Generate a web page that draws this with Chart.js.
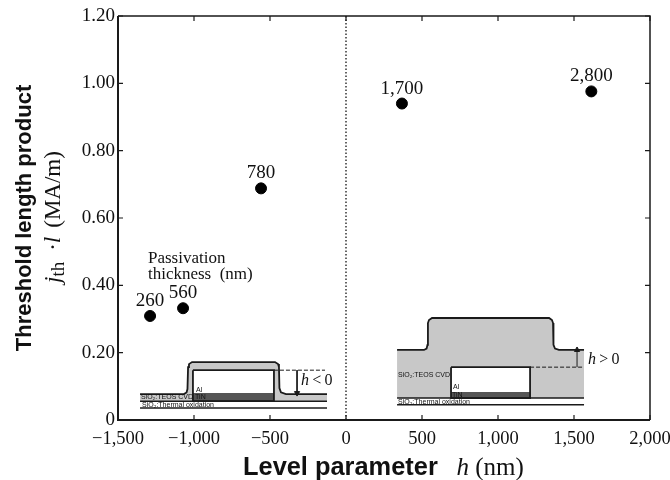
<!DOCTYPE html>
<html>
<head>
<meta charset="utf-8">
<title>Threshold length product vs level parameter</title>
<script src="https://cdn.jsdelivr.net/npm/chart.js@4"></script>
<style>
  html, body { margin: 0; padding: 0; background: #fff; }
  canvas { display: block; }
</style>
</head>
<body>
<canvas id="myChart" width="670" height="480"></canvas>
<script>
// measured points
var levelParam = [-1289, -1072, -559, 368, 1614];
var thresholdProduct = [0.309, 0.332, 0.688, 0.94, 0.976];
var thicknessLabels = ['260', '560', '780', '1,700', '2,800'];

var xTickLabels = ['\u22121,500', '\u22121,000', '\u2212500', '0', '500', '1,000', '1,500', '2,000'];
var yTickLabels = ['0', '0.20', '0.40', '0.60', '0.80', '1.00', '1.20'];

// inset drawings, in axis units
var leftSurfaceX = [-1355, -1066, -1049, -1043, -1039, -1033, -1013, -467, -447, -441, -438, -428, -395, -125];
var leftSurfaceY = [0.077, 0.077, 0.082, 0.092, 0.157, 0.166, 0.172, 0.172, 0.166, 0.157, 0.095, 0.082, 0.077, 0.077];
var leftBoxX = [-1007, -474, -474, -1007, -1007];
var leftBoxY = [0.148, 0.148, 0.056, 0.056, 0.148];
var leftAlX = [-1007, -474];
var leftAlTop = [0.148, 0.148];
var leftTinTop = [0.080, 0.080];
var leftEdgesX = [-1355, -125];
var leftBase = [0.056, 0.056];
var leftOxide = [0.036, 0.036];
var leftDashX = [-474, -138];
var leftDashY = [0.148, 0.148];
var leftArrowX = [-322, -322];
var leftArrowY = [0.148, 0.080];

var rightSurfaceX = [336, 513, 530, 536, 539, 546, 566, 1336, 1355, 1362, 1365, 1375, 1401, 1566];
var rightSurfaceY = [0.208, 0.208, 0.212, 0.223, 0.288, 0.297, 0.303, 0.303, 0.297, 0.288, 0.223, 0.212, 0.208, 0.208];
var rightBoxX = [691, 1211, 1211, 691, 691];
var rightBoxY = [0.157, 0.157, 0.065, 0.065, 0.157];
var rightAlX = [691, 1211];
var rightAlTop = [0.157, 0.157];
var rightTinTop = [0.083, 0.083];
var rightEdgesX = [336, 1566];
var rightBase = [0.065, 0.065];
var rightOxide = [0.045, 0.045];
var rightDashX = [1211, 1566];
var rightDashY = [0.157, 0.157];
var rightArrowX = [1520, 1520];
var rightArrowY = [0.157, 0.208];

var zeroX = [0, 0];
var zeroY = [0, 1.2];

var INK = '#1a1a1a';
var GRAY = '#c8c8c8';
var SERIF = '"Liberation Serif", serif';
var SANS = '"Liberation Sans", sans-serif';

function pts(xs, ys) {
    return xs.map(function (x, i) { return { x: x, y: ys[i] }; });
}

function outline(xs, ys, order, extra) {
    return Object.assign({
        data: pts(xs, ys),
        showLine: true,
        borderColor: INK,
        borderWidth: 1.8,
        pointRadius: 0,
        fill: false,
        order: order
    }, extra || {});
}

function filled(xs, ys, base, color, order) {
    return outline(xs, ys, order, {
        borderWidth: 0,
        backgroundColor: color,
        fill: { value: base }
    });
}

var datasets = [
    {
        label: 'Passivation thickness',
        data: pts(levelParam, thresholdProduct),
        backgroundColor: '#000',
        borderColor: '#000',
        pointRadius: 5.5,
        order: 0
    },
    outline(zeroX, zeroY, 1, { borderWidth: 1.2, borderDash: [1.5, 2], borderColor: '#000' }),

    // left inset, h < 0
    outline(leftArrowX, leftArrowY, 2, { borderWidth: 1, pointRadius: [0, 3], pointStyle: 'triangle', pointRotation: 180, backgroundColor: INK }),
    outline(leftDashX, leftDashY, 2, { borderWidth: 1, borderDash: [4, 2] }),
    outline(leftBoxX, leftBoxY, 3),
    outline(leftEdgesX, leftOxide, 3, { borderWidth: 1.5 }),
    outline(leftEdgesX, leftBase, 3, { borderWidth: 1.5 }),
    outline(leftSurfaceX, leftSurfaceY, 3),
    filled(leftAlX, leftTinTop, 0.056, '#555', 4),
    filled(leftAlX, leftAlTop, 0.080, '#fff', 4),
    filled(leftSurfaceX, leftSurfaceY, 0.056, GRAY, 5),

    // right inset, h > 0
    outline(rightArrowX, rightArrowY, 2, { borderWidth: 1, pointRadius: [0, 3], pointStyle: 'triangle', backgroundColor: INK }),
    outline(rightDashX, rightDashY, 2, { borderWidth: 1, borderDash: [4, 2] }),
    outline(rightBoxX, rightBoxY, 3),
    outline(rightEdgesX, rightOxide, 3, { borderWidth: 1.5 }),
    outline(rightEdgesX, rightBase, 3, { borderWidth: 1.5 }),
    outline(rightSurfaceX, rightSurfaceY, 3),
    filled(rightAlX, rightTinTop, 0.065, '#555', 4),
    filled(rightAlX, rightAlTop, 0.083, '#fff', 4),
    filled(rightSurfaceX, rightSurfaceY, 0.065, GRAY, 5)
];

// each run: text, font, baseline shift, gap after
function drawRuns(ctx, runs, x, y) {
    runs.forEach(function (r) {
        ctx.font = r[1];
        ctx.fillText(r[0], x, y + (r[2] || 0));
        x += ctx.measureText(r[0]).width + (r[3] || 0);
    });
}

// frame with inward ticks, point labels, inset notes and the mixed-font titles
var extras = {
    id: 'extras',
    afterDraw: function (chart) {
        var ctx = chart.ctx, a = chart.chartArea;
        var xs = chart.scales.x, ys = chart.scales.y;
        ctx.save();
        ctx.strokeStyle = INK;
        ctx.fillStyle = '#111';

        ctx.lineWidth = 1.5;
        ctx.beginPath();
        ctx.moveTo(a.left, a.top);
        ctx.lineTo(a.right, a.top);
        ctx.lineTo(a.right, a.bottom);
        ctx.stroke();
        ctx.lineWidth = 2;
        ctx.beginPath();
        ctx.moveTo(a.left, a.top);
        ctx.lineTo(a.left, a.bottom);
        ctx.lineTo(a.right, a.bottom);
        ctx.stroke();

        ctx.lineWidth = 1.2;
        ctx.beginPath();
        xs.ticks.forEach(function (t) {
            var px = xs.getPixelForValue(t.value);
            ctx.moveTo(px, a.bottom);
            ctx.lineTo(px, a.bottom - 5);
            ctx.moveTo(px, a.top);
            ctx.lineTo(px, a.top + 5);
        });
        ys.ticks.forEach(function (t) {
            var py = ys.getPixelForValue(t.value);
            ctx.moveTo(a.left, py);
            ctx.lineTo(a.left + 5, py);
            ctx.moveTo(a.right, py);
            ctx.lineTo(a.right - 5, py);
        });
        ctx.stroke();

        // thickness labels over the dots
        ctx.textBaseline = 'alphabetic';
        ctx.textAlign = 'center';
        ctx.font = '19px ' + SERIF;
        thicknessLabels.forEach(function (txt, i) {
            ctx.fillText(txt, xs.getPixelForValue(levelParam[i]), ys.getPixelForValue(thresholdProduct[i]) - 10);
        });

        ctx.textAlign = 'left';
        function note(txt, x, y) {
            ctx.fillText(txt, xs.getPixelForValue(x), ys.getPixelForValue(y));
        }
        ctx.font = '17px ' + SERIF;
        note('Passivation', -1303, 0.466);
        note('thickness  (nm)', -1303, 0.418);

        ctx.font = '7px ' + SANS;
        note('SiO\u2082:TEOS CVD', -1349, 0.062);
        note('SiO\u2082:Thermal oxidation', -1342, 0.039);
        note('Al', -987, 0.083);
        note('TiN', -993, 0.062);
        note('SiO\u2082:TEOS CVD', 342, 0.128);
        note('SiO\u2082:Thermal oxidation', 342, 0.047);
        note('Al', 704, 0.092);
        note('TiN', 697, 0.068);

        drawRuns(ctx, [['h', 'italic 16px ' + SERIF], ['\u2009<\u20090', '16px ' + SERIF]], xs.getPixelForValue(-296), ys.getPixelForValue(0.104));
        drawRuns(ctx, [['h', 'italic 16px ' + SERIF], ['\u2009>\u20090', '16px ' + SERIF]], xs.getPixelForValue(1592), ys.getPixelForValue(0.166));

        // x title
        drawRuns(ctx, [
            ['Level parameter', 'bold 25.4px ' + SANS],
            ['   ', '25px ' + SERIF],
            ['h', 'italic 25px ' + SERIF],
            [' (nm)', '25px ' + SERIF]
        ], 243, 475);

        // second line of the y title
        ctx.translate(60, 283);
        ctx.rotate(-Math.PI / 2);
        drawRuns(ctx, [
            ['j', 'italic 23px ' + SERIF],
            ['th', '19px ' + SERIF, 4, 11],
            ['\u00b7', '23px ' + SERIF],
            ['l', 'italic 23px ' + SERIF, 0, 9],
            ['(MA/m)', '23px ' + SERIF]
        ], 0, 0);
        ctx.restore();
    }
};

var ctx = document.getElementById('myChart').getContext('2d');

var myChart = new Chart(ctx, {
    type: 'scatter',
    data: { datasets: datasets },
    plugins: [extras],
    options: {
        responsive: false,
        animation: false,
        layout: { padding: { top: 16, right: 20 } },
        plugins: { legend: { display: false }, tooltip: { enabled: false } },
        scales: {
            x: {
                type: 'linear',
                min: -1500,
                max: 2000,
                afterFit: function (s) { s.height = 60; s.paddingLeft = 0; s.paddingRight = 0; },
                grid: { display: false, drawTicks: false },
                border: { display: false },
                ticks: {
                    stepSize: 500,
                    autoSkip: false,
                    maxRotation: 0,
                    padding: 8,
                    color: '#111',
                    font: { family: SERIF, size: 18.5 },
                    callback: function (v, i) { return xTickLabels[i]; }
                }
            },
            y: {
                type: 'linear',
                min: 0,
                max: 1.2,
                afterFit: function (s) { s.width = 118; s.paddingTop = 0; s.paddingBottom = 0; },
                grid: { display: false, drawTicks: false },
                border: { display: false },
                title: {
                    display: true,
                    text: 'Threshold length product',
                    color: '#111',
                    font: { family: SANS, size: 22, weight: 'bold' },
                    padding: { top: 12, bottom: 0 }
                },
                ticks: {
                    stepSize: 0.2,
                    autoSkip: false,
                    padding: 3,
                    color: '#111',
                    font: { family: SERIF, size: 19 },
                    callback: function (v, i) { return yTickLabels[i]; }
                }
            }
        }
    }
});
</script>
</body>
</html>
